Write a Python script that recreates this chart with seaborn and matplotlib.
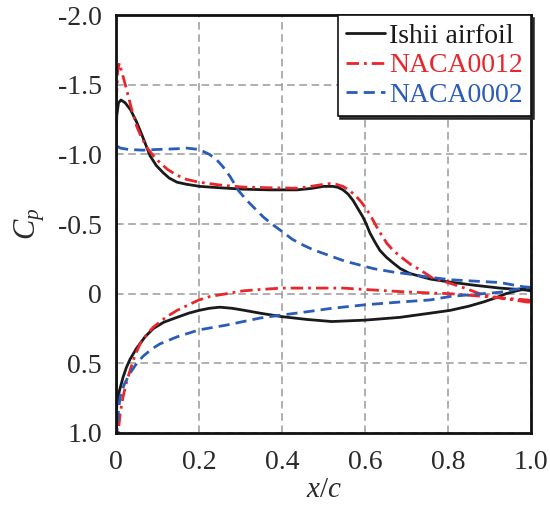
import numpy as np
import pandas as pd
import matplotlib
matplotlib.use("Agg")
import matplotlib.pyplot as plt
import seaborn as sns

# ---- data ----
# Each airfoil: upper surface (TE -> LE) then lower surface (LE -> TE)
ishii_upper_x = [1.0, 0.985, 0.925, 0.865, 0.805, 0.757, 0.708, 0.685, 0.668, 0.652, 0.636,
                 0.624, 0.612, 0.603, 0.595, 0.583, 0.571, 0.559, 0.547, 0.535, 0.523,
                 0.50, 0.47, 0.436, 0.37, 0.306, 0.25, 0.202, 0.17, 0.147, 0.128, 0.113,
                 0.097, 0.082, 0.065, 0.05, 0.035, 0.022, 0.012, 0.006, 0.002, 0.0]
ishii_upper_cp = [-0.02, -0.027, -0.04, -0.06, -0.083, -0.105, -0.145, -0.18, -0.22, -0.26, -0.31,
                  -0.37, -0.435, -0.50, -0.55, -0.61, -0.67, -0.715, -0.745, -0.763, -0.77,
                  -0.77, -0.755, -0.745, -0.745, -0.75, -0.76, -0.77, -0.785, -0.80, -0.83, -0.87,
                  -0.92, -0.99, -1.12, -1.23, -1.32, -1.37, -1.39, -1.37, -1.28, -1.1]
ishii_lower_x = [0.0, 0.002, 0.008, 0.017, 0.025, 0.034, 0.05, 0.07, 0.09, 0.115, 0.147,
                 0.175, 0.2, 0.225, 0.25, 0.28, 0.31, 0.347, 0.40, 0.46, 0.52, 0.6,
                 0.684, 0.757, 0.805, 0.85, 0.885, 0.915, 0.94, 0.965, 0.98, 1.0]
ishii_lower_cp = [1.0, 0.79, 0.70, 0.60, 0.53, 0.47, 0.39, 0.31, 0.25, 0.205, 0.17,
                  0.14, 0.12, 0.105, 0.097, 0.105, 0.12, 0.14, 0.165, 0.185, 0.20, 0.19,
                  0.17, 0.14, 0.12, 0.09, 0.06, 0.03, 0.0, -0.02, -0.03, -0.04]

naca0012_upper_x = [1.0, 0.99, 0.925, 0.885, 0.845, 0.805, 0.764, 0.733, 0.71, 0.684, 0.668,
                    0.653, 0.64, 0.628, 0.617, 0.605, 0.593, 0.58, 0.563, 0.547, 0.53,
                    0.516, 0.49, 0.46, 0.436, 0.37, 0.306, 0.25, 0.2, 0.17, 0.147, 0.125,
                    0.106, 0.09, 0.074, 0.06, 0.05, 0.038, 0.026, 0.016, 0.008, 0.004,
                    0.001, 0.0]
naca0012_upper_cp = [0.05, 0.045, 0.03, 0.01, -0.035, -0.075, -0.11, -0.17, -0.21, -0.27, -0.31,
                     -0.36, -0.42, -0.48, -0.54, -0.60, -0.65, -0.695, -0.74, -0.77, -0.785,
                     -0.79, -0.78, -0.765, -0.757, -0.76, -0.765, -0.78, -0.80, -0.82, -0.85, -0.89,
                     -0.94, -0.99, -1.05, -1.13, -1.20, -1.32, -1.46, -1.57, -1.655, -1.6,
                     -1.4, -1.2]
naca0012_lower_x = [0.0, 0.005, 0.01, 0.017, 0.025, 0.034, 0.045, 0.058, 0.075, 0.09, 0.12,
                    0.147, 0.175, 0.2, 0.227, 0.267, 0.306, 0.347, 0.40, 0.48, 0.547,
                    0.628, 0.684, 0.757, 0.805, 0.865, 0.925, 0.99, 1.0]
naca0012_lower_cp = [1.0, 1.0, 0.86, 0.74, 0.64, 0.55, 0.45, 0.36, 0.29, 0.24, 0.17,
                     0.12, 0.08, 0.045, 0.02, 0.0, -0.02, -0.03, -0.04, -0.04, -0.04,
                     -0.025, -0.015, -0.005, 0.0, 0.015, 0.03, 0.06, 0.06]

naca0002_upper_x = [1.0, 0.98, 0.925, 0.865, 0.805, 0.75, 0.708, 0.668, 0.62, 0.588, 0.55,
                    0.508, 0.475, 0.45, 0.425, 0.403, 0.38, 0.355, 0.335, 0.315, 0.295,
                    0.275, 0.258, 0.243, 0.225, 0.2, 0.17, 0.147, 0.10, 0.065, 0.03,
                    0.01, 0.003, 0.0]
naca0002_upper_cp = [-0.045, -0.05, -0.08, -0.09, -0.10, -0.12, -0.14, -0.155, -0.18, -0.205, -0.235,
                     -0.28, -0.315, -0.35, -0.39, -0.44, -0.49, -0.55, -0.61, -0.67, -0.74,
                     -0.84, -0.91, -0.96, -1.0, -1.035, -1.045, -1.04, -1.035, -1.03, -1.035,
                     -1.045, -1.06, -1.12]
naca0002_lower_x = [0.0, 0.002, 0.006, 0.01, 0.02, 0.034, 0.05, 0.065, 0.085, 0.106, 0.147,
                    0.2, 0.267, 0.347, 0.395, 0.46, 0.52, 0.6, 0.684, 0.757, 0.805,
                    0.865, 0.925, 0.98, 1.0]
naca0002_lower_cp = [1.0, 1.0, 0.84, 0.74, 0.65, 0.57, 0.50, 0.45, 0.40, 0.36, 0.31,
                     0.26, 0.225, 0.175, 0.155, 0.13, 0.105, 0.08, 0.06, 0.045, 0.02,
                     0.005, -0.01, -0.04, -0.045]

series_names = ["Ishii airfoil", "NACA0012", "NACA0002"]
x_ticks = [0, 0.2, 0.4, 0.6, 0.8, 1.0]
x_tick_labels = ["0", "0.2", "0.4", "0.6", "0.8", "1.0"]
y_ticks = [-2.0, -1.5, -1.0, -0.5, 0, 0.5, 1.0]
y_tick_labels = ["-2.0", "-1.5", "-1.0", "-0.5", "0", "0.5", "1.0"]

# ---- styling ----
sns.set_style("white")
plt.rcParams["font.family"] = ["Liberation Serif", "DejaVu Serif"]
plt.rcParams["mathtext.fontset"] = "custom"
plt.rcParams["mathtext.rm"] = "Liberation Serif"
plt.rcParams["mathtext.it"] = "Liberation Serif:italic"

fig = plt.figure(figsize=(5.5, 5.09), dpi=100)
ax = fig.add_axes([116 / 550, 1 - 433 / 509, (531 - 116) / 550, (433 - 15) / 509])

colors = ["#1a1a1a", "#e8262b", "#2a5cb8"]
styles = ["-", (0, (4.5, 1.8, 1.0, 1.8)), (0, (4.0, 2.2))]

curves = [
    (ishii_upper_x + ishii_lower_x, ishii_upper_cp + ishii_lower_cp),
    (naca0012_upper_x + naca0012_lower_x, naca0012_upper_cp + naca0012_lower_cp),
    (naca0002_upper_x + naca0002_lower_x, naca0002_upper_cp + naca0002_lower_cp),
]

for name, (xs, cps), c, ls in zip(series_names, curves, colors, styles):
    df = pd.DataFrame({"x": xs, "cp": cps})
    sns.lineplot(data=df, x="x", y="cp", sort=False, estimator=None, ax=ax,
                 color=c, linewidth=2.0, linestyle=ls, label=name)

ax.set_xlim(0, 1.0)
ax.set_ylim(1.0, -2.0)
ax.set_xticks(x_ticks)
ax.set_xticklabels(x_tick_labels)
ax.set_yticks(y_ticks)
ax.set_yticklabels(y_tick_labels)
ax.tick_params(axis="both", length=0, labelsize=20, labelcolor="#2a2a2a")
ax.tick_params(axis="x", pad=12)
ax.tick_params(axis="y", pad=10)

ax.grid(True, color="#9a9a9a", linestyle=(0, (5, 3)), linewidth=1.1)
ax.set_axisbelow(True)
for sp in ax.spines.values():
    sp.set_color("#111111")
    sp.set_linewidth(2.0)

ax.set_xlabel(r"$x/c$", fontsize=21, labelpad=2, color="#2a2a2a")
ax.set_ylabel(r"$C_p$", fontsize=22, labelpad=8, color="#2a2a2a")

leg = ax.legend(loc="upper right", fontsize=20, frameon=True, fancybox=False,
                borderaxespad=0.0, handlelength=1.4, handletextpad=0.15,
                borderpad=0.3, labelspacing=0.15,
                shadow={"color": "#222222", "alpha": 0.9})
leg.get_frame().set_edgecolor("#111111")
leg.get_frame().set_linewidth(1.2)
for txt, c in zip(leg.get_texts(), colors):
    txt.set_color(c)

fig.savefig("out.png", dpi=100)
